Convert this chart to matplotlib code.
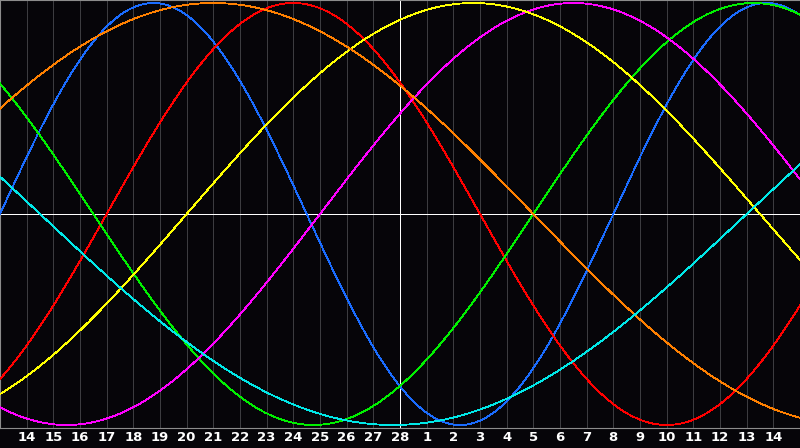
import numpy as np
import matplotlib
matplotlib.use("Agg")
import matplotlib.pyplot as plt

# days lived on the centre day (28th) and the cycle lengths in days
days_alive = 44083
cycle_periods = [23, 28, 33, 38, 43, 48, 53]
cycle_colors = ["#1a6cff", "#ff0000", "#00f000", "#ff00ff", "#ffff00", "#ff8000", "#00e8e8"]

# labels of the day grid, centre day is 28
day_labels = [14, 15, 16, 17, 18, 19, 20, 21, 22, 23, 24, 25, 26, 27, 28,
              1, 2, 3, 4, 5, 6, 7, 8, 9, 10, 11, 12, 13, 14]
day_offsets = list(range(-14, 15))

fig = plt.figure(figsize=(8, 4.48), dpi=100, facecolor="#060509")
ax = fig.add_axes([0, 20 / 448, 1, 428 / 448])
ax.set_facecolor("#060509")

# day grid
for d in day_offsets:
    if d != 0:
        ax.axvline(d, color="#3c3c40", lw=0.6, zorder=1, antialiased=False)
ax.axvline(0, color="white", lw=0.6, zorder=2, antialiased=False)
ax.axhline(0, color="white", lw=0.6, zorder=2, antialiased=False)

t = np.linspace(-15, 15, 1601)
for period, color in zip(cycle_periods, cycle_colors):
    ax.plot(t, np.sin(2 * np.pi * (days_alive + t) / period), color=color,
            lw=0.6, zorder=3, antialiased=False)

ax.set_xlim(-15, 15)
ax.set_ylim(-1.0142, 1.0142)
ax.set_yticks([])
ax.set_xticks(day_offsets)
ax.set_xticklabels([str(v) for v in day_labels], color="white",
                   fontweight="bold", fontsize=9.5, family="DejaVu Sans")
ax.tick_params(axis="x", length=0, pad=2.5)

for side in ["left", "top", "bottom"]:
    ax.spines[side].set_color("#8c8c8c")
    ax.spines[side].set_linewidth(0.8)
ax.spines["right"].set_visible(False)

fig.savefig("out.png", dpi=100, facecolor=fig.get_facecolor())
